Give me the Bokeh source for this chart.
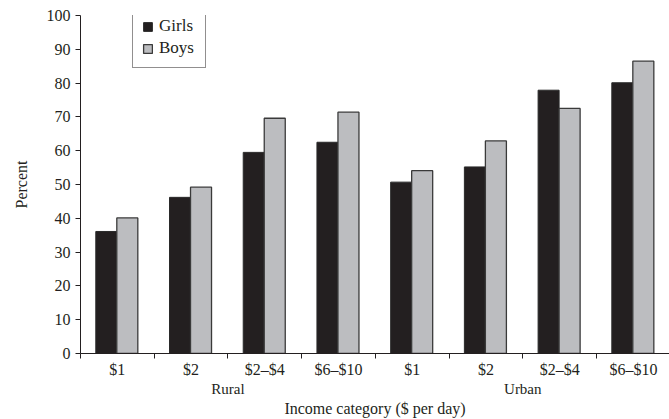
from bokeh.plotting import figure
from bokeh.models import Range1d, FixedTicker, LinearAxis, Legend, LegendItem, ColumnDataSource
from bokeh.embed import file_html
from bokeh.resources import INLINE

# ---- data ----
settings = ["Rural", "Urban"]
income_labels = ["$1", "$2", "$2\u2013$4", "$6\u2013$10"]
girls = [36.1, 46.2, 59.5, 62.5, 50.7, 55.2, 77.9, 80.1]
boys = [40.1, 49.2, 69.6, 71.4, 54.1, 62.9, 72.5, 86.5]
y_ticks = [0, 10, 20, 30, 40, 50, 60, 70, 80, 90, 100]

FONT = "Liberation Serif"
TXT = "#231f20"
GIRL_C = "#231f20"
BOY_C = "#bcbdc0"

n = len(girls)
cat_labels = income_labels * len(settings)
idx = list(range(n))

src = ColumnDataSource(dict(
    xg=[i + 0.35 for i in idx],
    xb=[i + 0.635 for i in idx],
    girls=girls,
    boys=boys,
))

p = figure(width=669, height=419, output_backend="svg", toolbar_location=None,
           x_range=Range1d(0, 7.99), y_range=Range1d(0, 100),
           min_border_left=80, min_border_right=0, min_border_top=15, min_border_bottom=66)
p.outline_line_color = None
p.grid.visible = False
p.background_fill_color = "white"
p.border_fill_color = "white"

rg = p.vbar(x="xg", top="girls", width=0.285, source=src, fill_color=GIRL_C,
            line_color="#2a2a2a", line_width=1)
rb = p.vbar(x="xb", top="boys", width=0.285, source=src, fill_color=BOY_C,
            line_color="#3a3a3a", line_width=1.3)

# y axis
ya = p.yaxis[0]
ya.ticker = FixedTicker(ticks=y_ticks, minor_ticks=[])
ya.axis_label = "Percent"
ya.axis_label_text_font = FONT
ya.axis_label_text_font_style = "normal"
ya.axis_label_text_font_size = "16px"
ya.axis_label_text_color = TXT
ya.axis_label_standoff = 14
ya.major_label_text_font = FONT
ya.major_label_text_font_size = "16px"
ya.major_label_text_color = TXT
ya.major_label_standoff = 5
ya.major_tick_out = 5
ya.major_tick_in = 0
ya.minor_tick_line_color = None
ya.axis_line_color = TXT
ya.major_tick_line_color = TXT

# x axis (category labels, ticks at group boundaries)
xa = p.xaxis[0]
xa.ticker = FixedTicker(ticks=[i + 0.5 for i in idx], minor_ticks=idx)
xa.major_label_overrides = {i + 0.5: cat_labels[i] for i in idx}
xa.major_tick_line_color = None
xa.major_tick_out = 0
xa.major_tick_in = 0
xa.minor_tick_out = 5
xa.minor_tick_in = 0
xa.minor_tick_line_color = TXT
xa.axis_line_color = TXT
xa.major_label_text_font = FONT
xa.major_label_text_font_size = "16px"
xa.major_label_text_color = TXT
xa.major_label_standoff = 2

# second x axis: Rural / Urban and the axis title
half = len(income_labels)
xa2 = LinearAxis(ticker=FixedTicker(ticks=[half * k + half / 2 for k in range(len(settings))], minor_ticks=[]))
xa2.major_label_overrides = {half * k + half / 2: settings[k] for k in range(len(settings))}
xa2.axis_line_color = None
xa2.major_tick_line_color = None
xa2.minor_tick_line_color = None
xa2.major_tick_out = 0
xa2.major_tick_in = 0
xa2.major_label_standoff = 0
xa2.major_label_text_font = FONT
xa2.major_label_text_font_size = "15px"
xa2.major_label_text_color = TXT
xa2.axis_label = "Income category ($ per day)"
xa2.axis_label_text_font = FONT
xa2.axis_label_text_font_style = "normal"
xa2.axis_label_text_font_size = "16px"
xa2.axis_label_text_color = TXT
xa2.axis_label_standoff = 0
p.add_layout(xa2, "below")

legend = Legend(items=[LegendItem(label="Girls", renderers=[rg]),
                       LegendItem(label="Boys", renderers=[rb])],
                location=(52, 285))
legend.border_line_color = TXT
legend.border_line_width = 1
legend.background_fill_color = "white"
legend.background_fill_alpha = 1
legend.glyph_width = 11
legend.glyph_height = 11
legend.label_standoff = 6
legend.label_width = 37
legend.padding = 9
legend.spacing = 2
legend.margin = 0
legend.label_text_font = FONT
legend.label_text_font_size = "17px"
legend.label_text_color = TXT
p.add_layout(legend)

open("out.html", "w").write(file_html(p, INLINE))
